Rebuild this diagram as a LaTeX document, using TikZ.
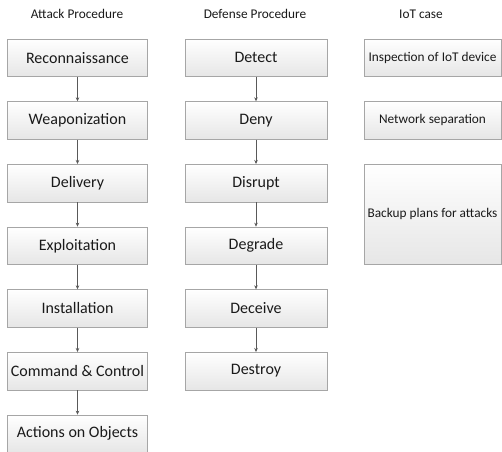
\documentclass[tikz,border=0pt]{standalone}
\usepackage{fontspec}
\setmainfont{Carlito}
\usetikzlibrary{arrows.meta,shadows}

\definecolor{boxline}{HTML}{A6A6A6}
\definecolor{boxbottom}{HTML}{E6E6E6}
\definecolor{arrowgray}{HTML}{595959}
\definecolor{txt}{HTML}{1A1A1A}

\tikzset{
  stage/.style={draw=boxline, line width=0.7pt, top color=white, bottom color=boxbottom,
    minimum height=37.5pt, inner sep=0pt, text=txt, font=\fontsize{16}{18}\selectfont,
    drop shadow={opacity=0.18, shadow xshift=0.7pt, shadow yshift=-0.9pt}},
  atk/.style={stage, minimum width=140.5pt},
  dfn/.style={stage, minimum width=142pt},
  iot/.style={stage, minimum width=137pt, font=\fontsize{13.3}{15}\selectfont},
  heading/.style={text=txt, font=\fontsize{13.3}{15}\selectfont, inner sep=0pt},
  flow/.style={draw=arrowgray, line width=0.6pt, -{Stealth[length=4pt,width=3.5pt]}}
}

\begin{document}
\begin{tikzpicture}[x=1pt, y=-1pt]
  \useasboundingbox (0,0) rectangle (502,451);
  \clip (0,0) rectangle (502,451);
  \fill[white] (0,0) rectangle (502,451);

  % column headings
  \node[heading] at (77,14) {Attack Procedure};
  \node[heading] at (255,14) {Defense Procedure};
  \node[heading] at (421,14) {IoT case};

  % attack chain
  \node[atk] (a1) at (77.5,57.75) {Reconnaissance};
  \node[atk] (a2) at (77.5,120.4) {Weaponization};
  \node[atk] (a3) at (77.5,183.1) {Delivery};
  \node[atk] (a4) at (77.5,245.75) {Exploitation};
  \node[atk] (a5) at (77.5,308.4) {Installation};
  \node[atk] (a6) at (77.5,371.1) {Command \& Control};
  \node[atk] (a7) at (77.5,433.75) {Actions on Objects};

  % defense chain
  \node[dfn] (d1) at (256,57.75) {Detect};
  \node[dfn] (d2) at (256,120.4) {Deny};
  \node[dfn] (d3) at (256,183.1) {Disrupt};
  \node[dfn] (d4) at (256,245.75) {Degrade};
  \node[dfn] (d5) at (256,308.4) {Deceive};
  \node[dfn] (d6) at (256,371.1) {Destroy};

  % IoT countermeasures
  \node[iot] (i1) at (432.5,57.75) {Inspection of IoT device};
  \node[iot] (i2) at (432.5,120.4) {Network separation};
  \node[iot, minimum height=100pt] (i3) at (432.5,214) {Backup plans for attacks};

  % connectors
  \foreach \p/\q in {a1/a2,a2/a3,a3/a4,a4/a5,a5/a6,a6/a7,d1/d2,d2/d3,d3/d4,d4/d5,d5/d6}
    \draw[flow] (\p.south) -- (\q.north);
\end{tikzpicture}
\end{document}
